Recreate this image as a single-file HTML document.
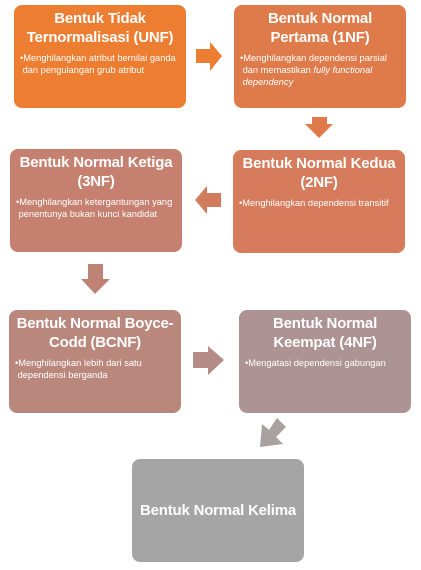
<!DOCTYPE html>
<html><head><style>
body{margin:0;width:421px;height:570px;background:#fff;position:relative;overflow:hidden;font-family:"Liberation Sans",sans-serif;}
.b{position:absolute;width:172px;height:103px;border-radius:8px;color:#fff;box-sizing:border-box;padding:4px 5px;}
.t{font-weight:bold;font-size:15px;line-height:19px;text-align:center;letter-spacing:-0.2px;white-space:nowrap}
.d{font-size:9.3px;line-height:12px;margin-top:5px;padding-left:1px;white-space:nowrap}
svg{position:absolute;left:0;top:0}
</style></head><body>
<svg width="421" height="570">
<polygon points="196,49 210,49 210,42 222,56 210,71 210,63 196,63" fill="#EC7D33"/>
<polygon points="312,117 327,117 327,124 333,124 319,138 305,124 312,124" fill="#DF7B4A"/>
<polygon points="221,193 207,193 207,186 195,200 207,214 207,207 221,207" fill="#D27B5E"/>
<polygon points="88,264 103,264 103,279 110,279 95,294 81,279 88,279" fill="#BE8375"/>
<polygon points="193,352 208,352 208,346 224,360 208,375 208,368 193,368" fill="#B38C87"/>
<polygon points="277,418 286,427 276,437 283,444 260,447 262,424 269,430" fill="#A9A0A0"/>
</svg>
<div class="b" style="left:14px;top:5px;background:#ED7D31"><div class="t">Bentuk Tidak<br>Ternormalisasi (UNF)</div><div class="d">•Menghilangkan atribut bernilai ganda<br>&nbsp;dan pengulangan grub atribut</div></div>
<div class="b" style="left:234px;top:5px;background:#DF7B4A"><div class="t">Bentuk Normal<br>Pertama (1NF)</div><div class="d">•Menghilangkan dependensi parsial<br>&nbsp;dan memastikan <i>fully functional</i><br>&nbsp;<i>dependency</i></div></div>
<div class="b" style="left:233px;top:150px;background:#D67B5B"><div class="t">Bentuk Normal Kedua<br>(2NF)</div><div class="d">•Menghilangkan dependensi transitif</div></div>
<div class="b" style="left:10px;top:149px;background:#C68070"><div class="t">Bentuk Normal Ketiga<br>(3NF)</div><div class="d">•Menghilangkan ketergantungan yang<br>&nbsp;penentunya bukan kunci kandidat</div></div>
<div class="b" style="left:9px;top:310px;background:#BA877D"><div class="t">Bentuk Normal Boyce-<br>Codd (BCNF)</div><div class="d">•Menghilangkan lebih dari satu<br>&nbsp;dependensi berganda</div></div>
<div class="b" style="left:239px;top:310px;background:#AD9393"><div class="t">Bentuk Normal<br>Keempat (4NF)</div><div class="d">•Mengatasi dependensi gabungan</div></div>
<div class="b" style="left:132px;top:459px;background:#A5A5A5;display:flex;align-items:center;justify-content:center"><div class="t">Bentuk Normal Kelima</div></div>
</body></html>
